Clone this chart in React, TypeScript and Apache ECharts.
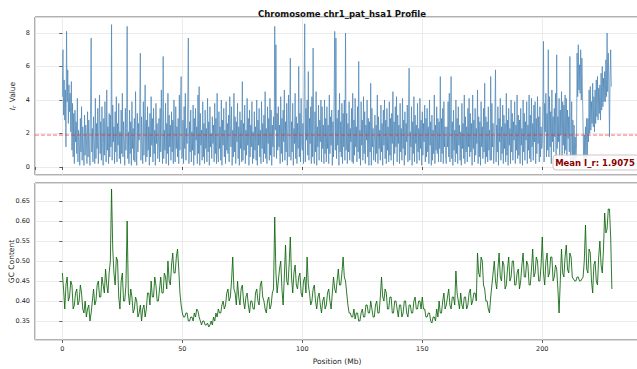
import React, { useEffect, useRef } from "react";
import * as echarts from "echarts";

// Sampling step along the chromosome (Mb per value)
const IR_STEP_MB = 0.25;
const GC_STEP_MB = 0.5;

// I_r profile, four values per Mb (one row = 5 Mb)
const irValues: number[] = [
  4.2, 7.0, 3.1, 5.2, 2.8, 4.6, 1.2, 8.1, 3.9, 5.8, 2.6, 4.9, 3.3, 4.4, 2.1, 5.1, 1.0, 3.8, 0.6, 3.2,
  0.2, 3.4, 1.5, 2.7, 0.8, 4.1, 0.3, 2.2, 1.7, 0.1, 2.9, 0.9, 3.6, 0.4, 2.4, 1.2, 0.1, 3.1, 0.7, 2.5,
  1.9, 0.2, 3.3, 0.6, 2.8, 1.3, 0.1, 3.7, 7.7, 0.9, 2.3, 0.3, 3.0, 1.6, 0.2, 4.1, 0.5, 2.6, 1.1, 3.5,
  0.2, 2.2, 4.3, 0.8, 2.7, 0.4, 3.6, 1.4, 0.1, 2.9, 0.7, 3.9, 1.8, 0.3, 4.6, 1.0, 2.4, 0.2, 3.2, 0.6,
  3.1, 1.2, 8.5, 0.4, 3.7, 1.5, 2.4, 0.2, 3.3, 0.9, 4.2, 0.3, 2.6, 1.3, 3.8, 0.5, 2.1, 0.2, 3.4, 0.8,
  4.4, 0.6, 2.7, 1.7, 0.1, 3.5, 1.0, 2.3, 8.4, 0.5, 2.1, 0.2, 3.4, 0.8, 2.7, 0.1, 3.9, 1.1, 2.3, 0.4,
  2.9, 0.3, 4.5, 1.2, 0.1, 3.2, 0.9, 2.6, 1.6, 3.7, 6.8, 0.4, 3.0, 1.5, 0.2, 3.9, 0.7, 2.4, 4.9, 0.3,
  2.8, 0.6, 3.6, 1.0, 2.4, 0.1, 3.2, 0.6, 4.2, 1.3, 2.9, 0.3, 3.5, 0.8, 2.2, 0.1, 3.8, 1.4, 2.6, 0.5,
  1.3, 2.9, 0.3, 3.5, 0.9, 4.6, 1.7, 0.2, 6.6, 0.5, 2.2, 1.0, 3.8, 0.2, 2.6, 0.8, 4.4, 0.1, 3.1, 1.2,
  2.5, 0.4, 3.3, 0.9, 2.8, 0.2, 4.0, 1.5, 0.3, 3.6, 1.1, 2.4, 0.6, 2.9, 0.2, 4.3, 1.0, 3.4, 5.4, 0.5,
  0.6, 2.8, 0.2, 3.6, 1.1, 4.4, 0.4, 2.3, 1.4, 3.9, 7.7, 0.2, 2.7, 0.9, 3.4, 0.3, 2.1, 1.0, 3.7, 0.1,
  2.9, 0.7, 3.5, 1.6, 2.4, 0.2, 4.3, 0.8, 4.8, 0.1, 3.2, 1.3, 2.2, 0.4, 3.9, 0.6, 2.6, 0.2, 3.4, 1.1,
  2.3, 0.3, 4.1, 0.9, 2.7, 0.1, 3.6, 1.2, 2.0, 0.5, 3.0, 1.4, 2.5, 0.3, 3.8, 0.8, 2.9, 0.2, 4.4, 1.0,
  0.3, 3.3, 1.1, 2.4, 0.4, 4.0, 0.1, 2.8, 1.3, 3.5, 0.6, 2.2, 0.2, 3.9, 1.0, 2.6, 0.8, 3.1, 0.3, 4.2,
  2.5, 1.2, 3.6, 0.1, 2.2, 0.6, 4.4, 0.9, 3.0, 0.2, 2.7, 1.5, 3.8, 0.5, 2.4, 0.1, 3.3, 1.1, 2.8, 0.3,
  5.1, 0.4, 2.6, 1.0, 3.7, 0.2, 2.2, 0.7, 4.1, 1.3, 2.9, 0.1, 3.4, 0.6, 2.5, 1.2, 3.9, 0.2, 2.1, 0.5,
  3.3, 1.0, 2.4, 0.4, 4.0, 0.1, 2.8, 1.3, 3.5, 0.6, 2.2, 0.2, 3.9, 1.1, 2.6, 0.3, 3.1, 0.8, 4.5, 0.5,
  2.3, 0.2, 3.6, 1.4, 2.9, 0.4, 4.1, 0.7, 3.4, 0.1, 2.5, 1.2, 3.0, 0.6, 8.4, 2.2, 7.3, 0.5, 3.2, 1.0,
  3.6, 1.2, 2.5, 0.2, 4.2, 0.8, 2.9, 0.3, 3.4, 1.5, 4.6, 0.4, 2.7, 0.9, 3.8, 0.1, 2.3, 4.3, 0.6, 3.2,
  6.5, 0.4, 2.7, 0.9, 3.8, 0.1, 2.3, 1.4, 4.4, 0.5, 3.0, 0.2, 2.6, 1.1, 6.0, 0.6, 3.2, 0.3, 4.1, 1.3,
  1.0, 2.6, 0.2, 4.7, 8.55, 0.3, 3.5, 1.6, 4.0, 0.7, 5.7, 0.4, 2.9, 1.4, 3.6, 0.2, 4.2, 0.6, 7.1, 0.9,
  0.2, 3.3, 0.9, 4.5, 0.1, 2.4, 1.2, 3.7, 0.4, 2.8, 1.5, 4.0, 0.3, 3.6, 1.1, 2.5, 0.2, 4.0, 0.8, 2.9,
  0.3, 3.6, 1.1, 2.5, 0.2, 4.3, 0.8, 3.0, 1.3, 3.4, 0.1, 2.7, 0.6, 4.1, 8.1, 1.0, 7.7, 0.5, 2.9, 1.3,
  3.4, 0.1, 4.4, 0.9, 2.7, 0.6, 3.8, 0.2, 3.2, 1.2, 4.0, 0.4, 8.0, 1.0, 3.2, 0.2, 2.6, 0.9, 3.9, 0.4,
  2.3, 1.5, 3.5, 0.3, 4.4, 0.2, 2.8, 0.7, 4.1, 1.2, 2.4, 0.3, 3.6, 0.9, 6.3, 0.5, 2.2, 0.1, 3.9, 1.3,
  2.8, 0.4, 4.2, 0.8, 3.3, 0.2, 2.5, 1.6, 4.0, 0.6, 2.9, 0.1, 2.7, 0.9, 5.0, 0.1, 3.5, 1.2, 2.3, 0.4,
  1.4, 3.1, 0.3, 2.5, 0.8, 4.3, 0.2, 3.0, 1.1, 2.2, 0.4, 3.7, 0.9, 2.6, 0.1, 3.4, 1.3, 4.0, 0.5, 2.8,
  0.2, 3.5, 1.0, 2.4, 0.3, 3.9, 0.7, 2.9, 0.4, 3.2, 1.4, 4.5, 0.1, 2.7, 0.8, 3.6, 1.2, 4.2, 0.3, 3.1,
  1.4, 2.5, 0.2, 3.8, 0.9, 2.3, 0.4, 4.1, 1.1, 2.8, 0.1, 3.3, 0.7, 2.6, 1.5, 3.7, 0.3, 2.9, 5.9, 0.4,
  2.1, 1.2, 3.6, 0.1, 2.7, 0.8, 4.2, 0.3, 3.1, 1.4, 2.5, 0.2, 3.8, 0.9, 2.3, 0.4, 4.1, 1.1, 2.8, 0.1,
  3.3, 0.7, 2.6, 1.5, 3.7, 0.3, 2.9, 0.6, 3.5, 0.9, 2.4, 0.2, 4.0, 1.3, 2.7, 0.1, 3.1, 0.4, 2.2, 0.8,
  4.3, 0.2, 2.5, 1.0, 3.6, 0.8, 2.9, 0.3, 2.7, 1.1, 5.4, 0.3, 2.9, 0.8, 3.5, 0.2, 3.9, 1.2, 2.4, 0.5,
  0.2, 2.4, 1.2, 3.9, 0.6, 4.4, 0.3, 2.8, 5.4, 0.5, 2.7, 0.1, 3.4, 1.0, 2.2, 0.3, 4.0, 0.8, 2.9, 0.2,
  3.6, 1.3, 2.5, 0.4, 2.1, 0.1, 3.8, 1.1, 2.6, 0.5, 4.3, 0.2, 3.0, 0.9, 2.4, 0.3, 3.5, 1.2, 4.1, 0.6,
  3.2, 0.9, 2.6, 0.1, 4.3, 1.1, 2.8, 0.3, 3.5, 0.7, 2.3, 1.4, 4.6, 0.2, 3.0, 0.6, 2.7, 0.1, 3.9, 1.2,
  2.4, 0.5, 3.5, 0.9, 5.0, 0.2, 3.0, 0.6, 2.7, 0.3, 3.6, 1.0, 2.2, 0.4, 5.4, 0.4, 3.8, 1.2, 2.6, 0.2,
  1.2, 3.0, 5.8, 0.3, 2.5, 0.9, 3.6, 0.1, 2.9, 1.5, 4.1, 0.4, 2.4, 0.8, 3.7, 0.2, 3.1, 1.1, 2.6, 0.3,
  4.4, 0.7, 2.8, 0.1, 3.5, 1.3, 2.3, 0.2, 4.0, 0.9, 3.2, 0.4, 2.7, 1.6, 3.9, 0.2, 2.5, 1.0, 4.3, 0.5,
  3.1, 0.7, 2.8, 0.2, 3.5, 1.3, 2.3, 0.1, 4.0, 0.9, 3.2, 0.4, 2.7, 1.6, 3.9, 0.2, 2.5, 1.0, 4.3, 0.5,
  3.1, 0.3, 4.1, 1.2, 2.6, 0.4, 3.7, 1.5, 3.9, 0.2, 2.9, 0.8, 4.2, 1.4, 3.0, 0.3, 3.6, 0.6, 2.4, 1.1,
  1.4, 3.5, 7.5, 0.3, 3.8, 2.1, 4.4, 0.6, 3.2, 1.0, 7.0, 0.6, 4.2, 1.2, 3.3, 0.2, 4.6, 1.5, 3.0, 0.9,
  3.5, 1.8, 4.4, 0.4, 6.7, 1.1, 3.0, 1.5, 4.1, 0.6, 3.4, 1.9, 4.5, 0.2, 3.9, 1.3, 3.7, 0.8, 4.3, 1.0,
  4.1, 0.6, 3.4, 1.7, 3.0, 0.9, 6.6, 0.2, 1.0, 3.9, 0.3, 2.8, 0.2, 2.5, 0.4, 1.8, 0.3, 1.2, 6.8, 4.2,
  7.3, 4.6, 6.1, 4.4, 7.0, 4.0, 6.5, 4.3, 2.4, 0.3, 1.9, 0.1, 2.4, 0.4, 2.9, 0.6, 2.9, 1.5, 4.6, 2.0,
  4.8, 2.2, 3.9, 2.6, 5.0, 2.4, 4.2, 2.1, 4.6, 2.6, 5.2, 3.0, 5.4, 2.8, 4.7, 3.2, 4.9, 2.8, 5.6, 3.4,
  6.0, 3.6, 5.3, 3.9, 5.7, 3.9, 6.4, 4.2, 8.0, 4.5, 6.8, 4.9, 1.8, 5.3, 7.0, 4.8,
];

// GC content, two values per Mb (one row = 5 Mb)
const gcValues: number[] = [
  0.47, 0.43, 0.38, 0.44, 0.46, 0.40, 0.41, 0.45, 0.44, 0.38,
  0.39, 0.42, 0.43, 0.39, 0.40, 0.44, 0.42, 0.38, 0.37, 0.40,
  0.36, 0.38, 0.39, 0.35, 0.37, 0.40, 0.43, 0.39, 0.40, 0.44,
  0.45, 0.41, 0.41, 0.46, 0.44, 0.42, 0.48, 0.44, 0.42, 0.47,
  0.50, 0.68, 0.53, 0.47, 0.44, 0.51, 0.50, 0.41, 0.38, 0.45,
  0.47, 0.40, 0.40, 0.44, 0.60, 0.42, 0.39, 0.43, 0.41, 0.37,
  0.38, 0.41, 0.40, 0.36, 0.37, 0.39, 0.35, 0.38, 0.39, 0.36,
  0.38, 0.42, 0.42, 0.39, 0.45, 0.41, 0.41, 0.46, 0.44, 0.40,
  0.40, 0.43, 0.46, 0.42, 0.42, 0.47, 0.46, 0.43, 0.50, 0.45,
  0.44, 0.49, 0.52, 0.47, 0.47, 0.51, 0.53, 0.48, 0.42, 0.39,
  0.37, 0.36, 0.36, 0.37, 0.37, 0.35, 0.35, 0.36, 0.36, 0.35,
  0.37, 0.36, 0.38, 0.375, 0.36, 0.35, 0.34, 0.35, 0.35, 0.34,
  0.34, 0.345, 0.335, 0.34, 0.35, 0.34, 0.36, 0.35, 0.37, 0.36,
  0.38, 0.37, 0.37, 0.39, 0.40, 0.38, 0.39, 0.42, 0.43, 0.40,
  0.41, 0.45, 0.51, 0.43, 0.42, 0.39, 0.45, 0.41, 0.39, 0.43,
  0.44, 0.40, 0.38, 0.41, 0.42, 0.39, 0.37, 0.40, 0.40, 0.38,
  0.38, 0.42, 0.43, 0.40, 0.39, 0.44, 0.45, 0.41, 0.40, 0.38,
  0.37, 0.40, 0.41, 0.38, 0.39, 0.42, 0.43, 0.61, 0.47, 0.42,
  0.45, 0.48, 0.50, 0.43, 0.39, 0.46, 0.54, 0.45, 0.44, 0.49,
  0.56, 0.46, 0.42, 0.47, 0.49, 0.44, 0.43, 0.46, 0.47, 0.42,
  0.41, 0.45, 0.46, 0.42, 0.51, 0.44, 0.42, 0.39, 0.40, 0.43,
  0.44, 0.40, 0.38, 0.41, 0.42, 0.39, 0.37, 0.40, 0.41, 0.38,
  0.39, 0.42, 0.43, 0.40, 0.38, 0.42, 0.46, 0.43, 0.42, 0.45,
  0.48, 0.44, 0.44, 0.47, 0.51, 0.46, 0.45, 0.42, 0.39, 0.37,
  0.37, 0.36, 0.36, 0.38, 0.355, 0.37, 0.37, 0.35, 0.35, 0.37,
  0.38, 0.36, 0.36, 0.39, 0.39, 0.37, 0.37, 0.40, 0.38, 0.36,
  0.36, 0.39, 0.40, 0.37, 0.37, 0.41, 0.46, 0.41, 0.40, 0.43,
  0.42, 0.38, 0.38, 0.41, 0.41, 0.37, 0.37, 0.40, 0.40, 0.38,
  0.36, 0.39, 0.39, 0.36, 0.37, 0.40, 0.40, 0.37, 0.36, 0.39,
  0.39, 0.37, 0.37, 0.40, 0.41, 0.38, 0.38, 0.40, 0.40, 0.38,
  0.41, 0.38, 0.38, 0.36, 0.36, 0.37, 0.37, 0.35, 0.345, 0.36,
  0.36, 0.35, 0.38, 0.36, 0.40, 0.37, 0.37, 0.40, 0.42, 0.38,
  0.39, 0.41, 0.43, 0.39, 0.38, 0.41, 0.41, 0.39, 0.475, 0.42,
  0.40, 0.38, 0.42, 0.39, 0.38, 0.41, 0.41, 0.38, 0.39, 0.42,
  0.43, 0.39, 0.40, 0.42, 0.42, 0.40, 0.52, 0.47, 0.46, 0.51,
  0.50, 0.44, 0.43, 0.40, 0.40, 0.38, 0.37, 0.41, 0.44, 0.47,
  0.50, 0.45, 0.43, 0.48, 0.52, 0.46, 0.45, 0.50, 0.49, 0.43,
  0.44, 0.48, 0.51, 0.45, 0.46, 0.50, 0.50, 0.44, 0.44, 0.47,
  0.48, 0.43, 0.45, 0.49, 0.52, 0.46, 0.46, 0.50, 0.49, 0.44,
  0.44, 0.48, 0.53, 0.46, 0.47, 0.51, 0.50, 0.45, 0.45, 0.49,
  0.56, 0.47, 0.44, 0.50, 0.52, 0.46, 0.47, 0.51, 0.51, 0.45,
  0.46, 0.49, 0.48, 0.43, 0.37, 0.45, 0.53, 0.47, 0.46, 0.51,
  0.54, 0.48, 0.47, 0.52, 0.51, 0.46, 0.455, 0.45, 0.45, 0.46,
  0.46, 0.45, 0.45, 0.455, 0.46, 0.50, 0.59, 0.48, 0.47, 0.53,
  0.52, 0.45, 0.42, 0.49, 0.50, 0.45, 0.44, 0.51, 0.55, 0.49,
  0.47, 0.53, 0.62, 0.57, 0.58, 0.63, 0.63, 0.56, 0.43,
];

const MEAN_IR = 1.9075;
const TITLE = "Chromosome chr1_pat_hsa1 Profile";
const X_LABEL = "Position (Mb)";

const FONT = "DejaVu Sans, Liberation Sans, sans-serif";
const TEXT_COLOR = "#262626";
const GRID_COLOR = "#e6e6e6";
const SPINE_COLOR = "#3a3a3a";

const X_MIN = -11.4;
const X_MAX = 240.3;

const nearMultiple = (v: number, step: number) =>
  Math.abs(v / step - Math.round(v / step)) < 1e-6;

export default function App() {
  const ref = useRef<HTMLDivElement>(null);

  useEffect(() => {
    if (!ref.current) return;
    const chart = echarts.init(ref.current, null, { renderer: "svg" });

    const irData = irValues.map((v, i) => [i * IR_STEP_MB, v]);
    const gcData = gcValues.map((v, i) => [i * GC_STEP_MB, v]);
    const meanData = [
      [X_MIN, MEAN_IR],
      [X_MAX, MEAN_IR],
    ];

    const tickLabel = {
      color: TEXT_COLOR,
      fontFamily: FONT,
      fontSize: 6.5,
      showMinLabel: false,
      showMaxLabel: false,
    };
    const axisTick = {
      show: true,
      inside: false,
      length: 3,
      lineStyle: { color: SPINE_COLOR, width: 0.8 },
    };
    const splitLine = { show: true, lineStyle: { color: GRID_COLOR, width: 0.8 } };

    const xCommon = {
      type: "value" as const,
      min: X_MIN,
      max: X_MAX,
      splitNumber: 5,
      axisLine: { show: false },
      axisTick,
      splitLine,
    };

    const gridCommon = {
      left: 35,
      width: 604,
      containLabel: false,
      outerBoundsMode: "none",
      show: true,
      borderColor: SPINE_COLOR,
      borderWidth: 0.8,
      backgroundColor: "transparent",
    };

    chart.setOption({
      animation: false,
      backgroundColor: "#ffffff",
      title: {
        text: TITLE,
        left: 337,
        top: 4,
        textAlign: "center",
        textStyle: { fontFamily: FONT, fontSize: 8.5, fontWeight: "bold", color: "#111" },
      },
      grid: [
        { ...gridCommon, top: 17, height: 158 },
        { ...gridCommon, top: 183, height: 157 },
      ],
      xAxis: [
        { ...xCommon, gridIndex: 0, axisLabel: { show: false } },
        {
          ...xCommon,
          gridIndex: 1,
          axisLabel: {
            ...tickLabel,
            margin: 5,
            formatter: (v: number) => (nearMultiple(v, 50) ? String(Math.round(v)) : ""),
          },
          name: X_LABEL,
          nameLocation: "middle",
          nameGap: 17,
          nameMoveOverlap: false,
          nameTextStyle: { fontFamily: FONT, fontSize: 7.5, color: TEXT_COLOR },
        },
      ],
      yAxis: [
        {
          type: "value",
          gridIndex: 0,
          min: -0.478,
          max: 8.955,
          splitNumber: 5,
          axisLine: { show: false },
          axisTick,
          splitLine,
          axisLabel: {
            ...tickLabel,
            margin: 5,
            formatter: (v: number) => (nearMultiple(v, 2) ? String(Math.round(v)) : ""),
          },
          name: "{i|I}{s|r} Value",
          nameLocation: "middle",
          nameRotate: 90,
          nameGap: 18,
          nameMoveOverlap: false,
          nameTextStyle: {
            fontFamily: FONT,
            fontSize: 7.5,
            color: TEXT_COLOR,
            rich: {
              i: { fontFamily: FONT, fontSize: 7.5, fontStyle: "italic", color: TEXT_COLOR },
              s: {
                fontFamily: FONT, fontSize: 5.5, fontStyle: "italic", color: TEXT_COLOR,
                padding: [4, 1, 0, 0],
              },
            },
          },
        },
        {
          type: "value",
          gridIndex: 1,
          min: 0.3025,
          max: 0.695,
          splitNumber: 8,
          axisLine: { show: false },
          axisTick,
          splitLine,
          axisLabel: {
            ...tickLabel,
            margin: 5,
            formatter: (v: number) => (nearMultiple(v, 0.05) ? v.toFixed(2) : ""),
          },
          name: "GC Content",
          nameLocation: "middle",
          nameRotate: 90,
          nameGap: 20,
          nameMoveOverlap: false,
          nameTextStyle: { fontFamily: FONT, fontSize: 7.5, color: TEXT_COLOR },
        },
      ],
      series: [
        {
          type: "line",
          xAxisIndex: 0,
          yAxisIndex: 0,
          data: irData,
          showSymbol: false,
          symbol: "none",
          clip: true,
          lineStyle: { color: "#4682b4", width: 0.85, opacity: 0.82 },
          z: 2,
        },
        {
          // genome-wide mean of I_r
          type: "line",
          xAxisIndex: 0,
          yAxisIndex: 0,
          data: meanData,
          showSymbol: false,
          symbol: "none",
          silent: true,
          lineStyle: { color: "#ff2020", width: 0.9, type: [4, 2], opacity: 0.75 },
          z: 3,
        },
        {
          type: "line",
          xAxisIndex: 1,
          yAxisIndex: 1,
          data: gcData,
          showSymbol: false,
          symbol: "none",
          clip: true,
          lineStyle: { color: "#0a640a", width: 1.0, opacity: 0.85 },
          z: 2,
        },
      ],
      graphic: [
        {
          type: "rect",
          z: 10,
          shape: { x: 553, y: 155, width: 86, height: 15, r: 3 },
          style: { fill: "rgba(255,255,255,0.88)", stroke: "#c4b4b4", lineWidth: 0.8 },
        },
        {
          type: "text",
          z: 11,
          x: 595,
          y: 162.5,
          style: {
            text: `Mean I_r: ${MEAN_IR.toFixed(4)}`,
            fontFamily: FONT,
            fontSize: 8.5,
            fontWeight: "bold",
            fill: "#8b0000",
            align: "center",
            verticalAlign: "middle",
          },
        },
      ],
    });

    return () => chart.dispose();
  }, []);

  return (
    <div
      ref={ref}
      style={{ position: "absolute", left: 0, top: 0, width: 637, height: 369, background: "#fff" }}
    />
  );
}
